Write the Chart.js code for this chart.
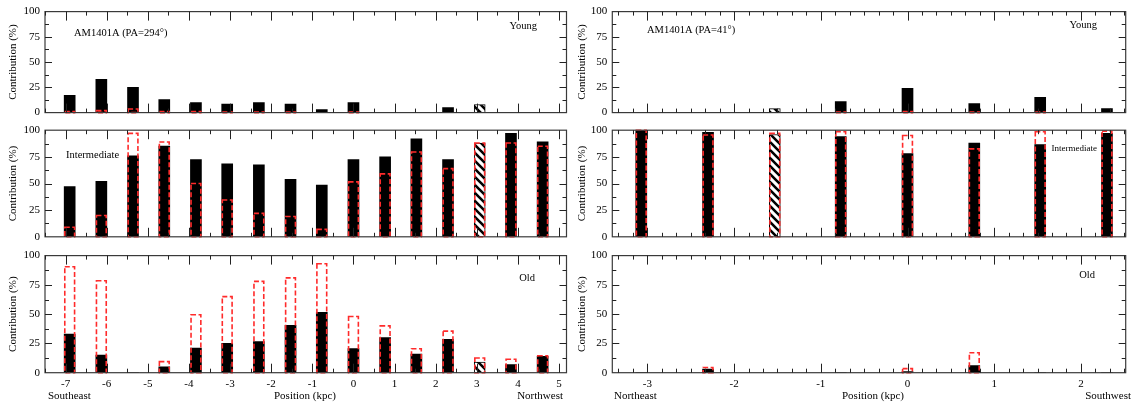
<!DOCTYPE html>
<html>
<head>
<meta charset="utf-8">
<script src="https://cdn.jsdelivr.net/npm/chart.js@4.4.1/dist/chart.umd.min.js"></script>
<style>
  html, body { margin: 0; padding: 0; background: #fff; }
  #wrap { position: relative; width: 1138px; height: 412px; overflow: hidden; }
  #wrap canvas { position: absolute; }
</style>
</head>
<body>
<div id="wrap"></div>
<script>
// ---- data ----
// bar positions along the slit (kpc)
const posPA294 = [-6.9, -6.13, -5.36, -4.6, -3.83, -3.07, -2.3, -1.53, -0.77, 0, 0.77, 1.53, 2.3, 3.07, 3.83, 4.6];
const posPA41 = [-3.07, -2.3, -1.53, -0.77, 0, 0.77, 1.53, 2.3];

// PA=294: filled bars and red dashed bars (%)
const young294 = [17, 33, 25, 13, 10, 8.5, 10, 8.5, 3, 10, 0, 0, 5, 8, 0, 0];
const young294Dash = [1, 2, 3.5, 1, 1, 0.5, 0.5, 0.5, 0, 0.5, 0, 0, 0, 0, 0, 0];
const inter294 = [47, 52, 76, 85, 72.5, 68.5, 67.5, 54, 48.5, 72.5, 75, 92, 72.5, 88, 97, 89];
const inter294Dash = [9, 20, 97, 89, 50, 34.5, 22, 19, 7, 51.5, 59, 79.5, 64, 88, 88, 85];
const old294 = [33, 15, 0, 5, 21, 25, 26.5, 40.5, 51.5, 20.5, 30, 16, 28.5, 9, 7, 14];
const old294Dash = [90.5, 78.5, 0, 9.5, 49.5, 65, 78, 81, 93, 48, 40, 20.5, 35.5, 12.5, 11.5, 14.5];

// PA=41
const young41 = [0, 0, 4, 11, 24, 9, 15, 4];
const young41Dash = [0, 0, 0, 0.5, 1, 0.5, 0.5, 0];
const inter41 = [100, 98, 96, 94, 78, 88, 86.5, 97];
const inter41Dash = [100, 95.5, 97, 98.5, 95, 82.5, 98.5, 99];
const old41 = [0, 3, 0, 0, 1, 6, 0, 0];
const old41Dash = [0, 4.5, 0, 0, 3.5, 17, 0, 0];

// hatched bar index in each slit
const hatch294 = 13;
const hatch41 = 2;

const xTicks294 = [-7, -6, -5, -4, -3, -2, -1, 0, 1, 2, 3, 4, 5];
const xTicks41 = [-3, -2, -1, 0, 1, 2];
const yTicks = [0, 25, 50, 75, 100];

// ---- layout ----
const FONT = '"Liberation Serif", "Times New Roman", serif';
const wrap = document.getElementById('wrap');

const rows = [
  { top: 0, height: 136, plotTop: 5.5, plotBottom: 124.3 },
  { top: 118, height: 142, plotTop: 130.2, plotBottom: 248.4 },
  { top: 244, height: 168, plotTop: 254.9, plotBottom: 372.7 },
];
const cols = [
  { left: 0, width: 570, plotLeft: 45, plotRight: 566.5, min: -7.5, max: 5.18, minor: 0.5, ticks: xTicks294, titleX: 13 },
  { left: 570, width: 568, plotLeft: 612.3, plotRight: 1125.7, min: -3.404, max: 2.516, minor: 1 / 6, ticks: xTicks41, titleX: 582 },
];

function hatchPattern() {
  const c = document.createElement('canvas');
  c.width = 8; c.height = 8;
  const g = c.getContext('2d');
  g.fillStyle = '#fff';
  g.fillRect(0, 0, 8, 8);
  g.strokeStyle = '#000';
  g.lineWidth = 2.6;
  g.beginPath();
  g.moveTo(-2, -2); g.lineTo(10, 10);
  g.moveTo(-2, 6); g.lineTo(2, 10);
  g.moveTo(6, -2); g.lineTo(10, 2);
  g.stroke();
  return g.createPattern(c, 'repeat');
}
const HATCH = hatchPattern();

// frame, inward ticks, dashed bars, annotations
const framePlugin = {
  id: 'frame',
  afterDatasetsDraw(chart, args, opts) {
    const { ctx, chartArea: a, scales: { x, y } } = chart;
    ctx.save();

    // red dashed bars (dataset 0)
    const ds = chart.data.datasets[0];
    ctx.strokeStyle = '#ff2b2b';
    ctx.lineWidth = 1.6;
    ctx.setLineDash([5, 2.5]);
    chart.getDatasetMeta(0).data.forEach((bar, i) => {
      if (!ds.data[i].y) return;
      const p = bar.getProps(['x', 'y', 'base', 'width'], true);
      ctx.strokeRect(p.x - p.width / 2 + 0.6, p.y, p.width - 1.2, p.base - p.y);
    });
    ctx.setLineDash([]);

    // frame
    ctx.strokeStyle = '#3a3a3a';
    ctx.lineWidth = 1.2;
    ctx.strokeRect(a.left, a.top, a.right - a.left, a.bottom - a.top);

    // ticks
    ctx.lineWidth = 1;
    ctx.strokeStyle = '#222';
    ctx.beginPath();
    const k0 = Math.ceil(x.min / opts.minor - 1e-6), k1 = Math.floor(x.max / opts.minor + 1e-6);
    for (let k = k0; k <= k1; k++) {
      const v = k * opts.minor;
      const major = Math.abs(v - Math.round(v)) < 1e-6;
      const len = major ? 9 : 4;
      const px = Math.round(x.getPixelForValue(v)) + 0.5;
      ctx.moveTo(px, a.bottom); ctx.lineTo(px, a.bottom - len);
      ctx.moveTo(px, a.top); ctx.lineTo(px, a.top + len);
    }
    for (let v = 12.5; v < 100; v += 12.5) {
      const major = v % 25 === 0;
      const len = major ? 7 : 4;
      const py = Math.round(y.getPixelForValue(v)) + 0.5;
      ctx.moveTo(a.left, py); ctx.lineTo(a.left + len, py);
      ctx.moveTo(a.right, py); ctx.lineTo(a.right - len, py);
    }
    ctx.stroke();

    // texts
    ctx.fillStyle = '#000';
    ctx.textBaseline = 'middle';
    opts.texts.forEach(t => {
      ctx.font = (t.size || 10.5) + 'px ' + FONT;
      ctx.textAlign = t.align || 'left';
      ctx.fillText(t.t, t.x - opts.ox, t.y - opts.oy);
    });

    // y title
    ctx.font = '11px ' + FONT;
    ctx.textAlign = 'center';
    ctx.translate(opts.titleX - opts.ox, (a.top + a.bottom) / 2 + opts.titleShift);
    ctx.rotate(-Math.PI / 2);
    ctx.fillText('Contribution (%)', 0, 0);

    ctx.restore();
  }
};

function makePanel(col, row, vals, dash, pos, hatchIdx, texts, showX, titleShift) {
  const canvas = document.createElement('canvas');
  canvas.width = col.width;
  canvas.height = row.height;
  canvas.style.left = col.left + 'px';
  canvas.style.top = row.top + 'px';
  wrap.appendChild(canvas);

  const bottomSpace = row.top + row.height - row.plotBottom;

  return new Chart(canvas, {
    type: 'bar',
    data: {
      datasets: [
        {
          label: 'dashed',
          data: pos.map((p, i) => ({ x: p, y: dash[i] })),
          backgroundColor: 'rgba(0,0,0,0)',
          borderWidth: 0,
          barThickness: 11,
          grouped: false,
        },
        {
          label: 'filled',
          data: pos.map((p, i) => ({ x: p, y: vals[i] })),
          backgroundColor: pos.map((p, i) => i === hatchIdx ? HATCH : '#000'),
          borderColor: '#000',
          borderWidth: pos.map((p, i) => i === hatchIdx ? 1 : 0),
          barThickness: 11,
          grouped: false,
        },
      ],
    },
    options: {
      responsive: false,
      animation: false,
      events: [],
      layout: {
        padding: {
          left: 0,
          right: col.left + col.width - col.plotRight,
          top: row.plotTop - row.top,
          bottom: showX ? 0 : bottomSpace,
        },
      },
      plugins: {
        legend: { display: false },
        tooltip: { enabled: false },
        frame: { minor: col.minor, texts, ox: col.left, oy: row.top, titleX: col.titleX, titleShift: titleShift || 0 },
      },
      scales: {
        x: {
          type: 'linear',
          min: col.min,
          max: col.max,
          offset: false,
          display: showX,
          grid: { display: false, drawTicks: false, offset: false },
          border: { display: false },
          afterBuildTicks: s => { s.ticks = col.ticks.map(v => ({ value: v })); },
          afterFit: s => { s.height = bottomSpace; },
          ticks: { padding: 5, color: '#000', font: { family: FONT, size: 11 }, maxRotation: 0, autoSkip: false },
        },
        y: {
          min: 0,
          max: 100,
          grid: { display: false, drawTicks: false },
          border: { display: false },
          afterBuildTicks: s => { s.ticks = yTicks.map(v => ({ value: v })); },
          afterFit: s => { s.width = col.plotLeft - col.left; },
          ticks: { padding: 5, color: '#000', font: { family: FONT, size: 11 } },
        },
      },
    },
    plugins: [framePlugin],
  });
}

const [L, R] = cols;
makePanel(L, rows[0], young294, young294Dash, posPA294, hatch294, [
  { t: 'AM1401A (PA=294\u00b0)', x: 74, y: 33 },
  { t: 'Young', x: 537, y: 26, align: 'right' },
], false, 0);
makePanel(L, rows[1], inter294, inter294Dash, posPA294, hatch294, [
  { t: 'Intermediate', x: 66, y: 155.5 },
], false, 0);
makePanel(L, rows[2], old294, old294Dash, posPA294, hatch294, [
  { t: 'Old', x: 535, y: 278, align: 'right' },
  { t: 'Southeast', x: 48, y: 396.5, size: 11 },
  { t: 'Position (kpc)', x: 305, y: 396, size: 11, align: 'center' },
  { t: 'Northwest', x: 563, y: 396, size: 11, align: 'right' },
], true, 0);

makePanel(R, rows[0], young41, young41Dash, posPA41, hatch41, [
  { t: 'AM1401A (PA=41\u00b0)', x: 647, y: 30 },
  { t: 'Young', x: 1097, y: 25, align: 'right' },
], false, 0);
makePanel(R, rows[1], inter41, inter41Dash, posPA41, hatch41, [
  { t: 'Intermediate', x: 1097, y: 149, size: 9, align: 'right' },
], false, 0);
makePanel(R, rows[2], old41, old41Dash, posPA41, hatch41, [
  { t: 'Old', x: 1095, y: 275, align: 'right' },
  { t: 'Northeast', x: 614, y: 396, size: 11 },
  { t: 'Position (kpc)', x: 873, y: 396, size: 11, align: 'center' },
  { t: 'Southwest', x: 1131, y: 396, size: 11, align: 'right' },
], true, 0);
</script>
</body>
</html>
